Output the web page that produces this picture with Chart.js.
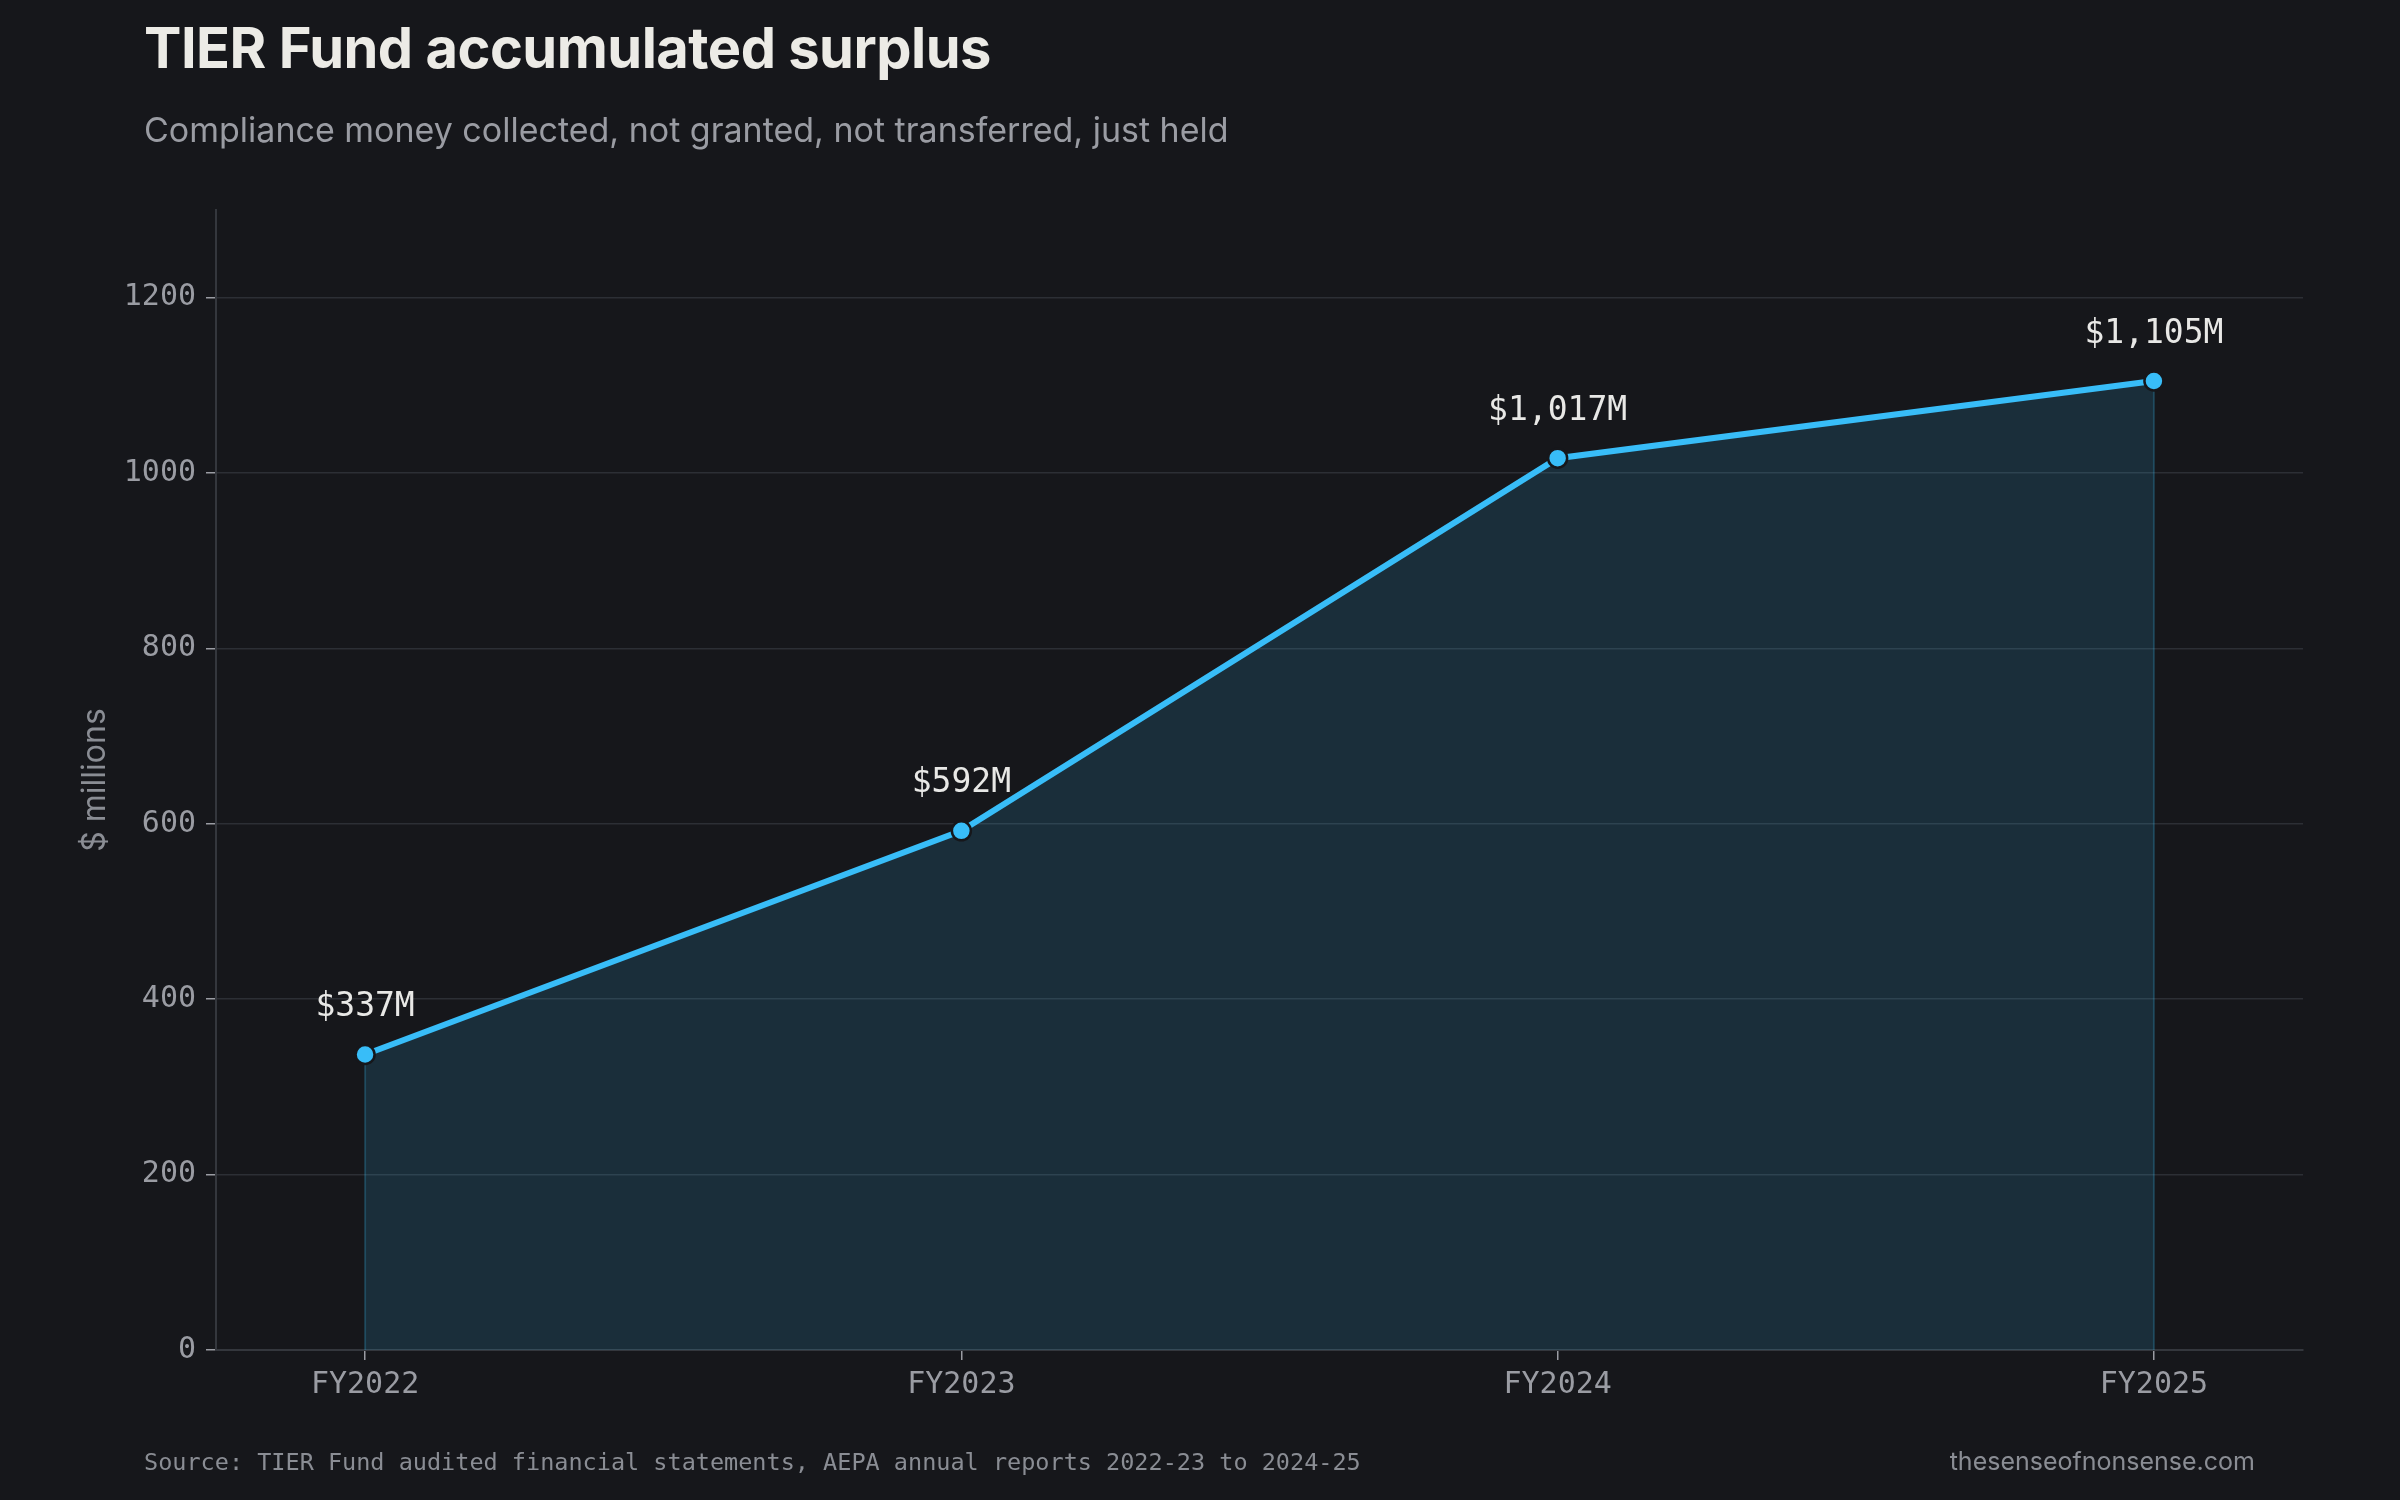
<!DOCTYPE html>
<html>
<head>
<meta charset="utf-8">
<script src="https://cdn.jsdelivr.net/npm/chart.js@4.4.1/dist/chart.umd.min.js"></script>
<style>
  html, body { margin:0; padding:0; background:#16171b; }
  #wrap { position:relative; width:2400px; height:1500px; overflow:hidden; }
  #c { position:absolute; left:0; top:0; }
  .txt { position:absolute; white-space:nowrap; }
  #title { left:144px; top:14px; font:700 56px "Inter", "Open Sans", sans-serif; color:#ecebe6; letter-spacing:-0.5px; }
  #sub { left:144px; top:109px; font:400 34px "Inter", "Open Sans", sans-serif; color:#9a9ca3; }
  #src { left:144px; top:1448px; font:400 23.5px "DejaVu Sans Mono", monospace; color:#8a8d94; }
  #site { right:145px; top:1446px; font:400 25px "Inter", "Open Sans", sans-serif; color:#8a8d94; }
</style>
</head>
<body>
<div id="wrap">
  <canvas id="c" width="2400" height="1500"></canvas>
  <div class="txt" id="title">TIER Fund accumulated surplus</div>
  <div class="txt" id="sub">Compliance money collected, not granted, not transferred, just held</div>
  <div class="txt" id="src">Source: TIER Fund audited financial statements, AEPA annual reports 2022-23 to 2024-25</div>
  <div class="txt" id="site">thesenseofnonsense.com</div>
</div>
<script>
// data
var years = ['FY2022', 'FY2023', 'FY2024', 'FY2025']
var surplus = [337, 592, 1017, 1105]
var valueLabels = ['$337M', '$592M', '$1,017M', '$1,105M']

var lineColor = '#38bdf8'
var bg = '#16171b'
var mono = '"DejaVu Sans Mono", monospace'

var points = []
for (var i = 0; i < years.length; i++) {
  points.push({x: i, y: surplus[i]})
}

// edges of the filled area + value labels
var extras = {
  id: 'extras',
  beforeDatasetsDraw: function(chart) {
    var ctx = chart.ctx
    var meta = chart.getDatasetMeta(0)
    var yb = chart.scales.y.getPixelForValue(0)
    ctx.save()
    ctx.strokeStyle = 'rgba(56,189,248,0.22)'
    ctx.lineWidth = 2
    ;[meta.data[0], meta.data[meta.data.length - 1]].forEach(function(p) {
      ctx.beginPath()
      ctx.moveTo(p.x, p.y)
      ctx.lineTo(p.x, yb)
      ctx.stroke()
    })
    ctx.restore()
  },
  afterDatasetsDraw: function(chart) {
    var ctx = chart.ctx
    var meta = chart.getDatasetMeta(0)
    ctx.save()
    ctx.font = '33px ' + mono
    ctx.fillStyle = '#e8e8e6'
    ctx.textAlign = 'center'
    ctx.textBaseline = 'middle'
    meta.data.forEach(function(p, i) {
      ctx.fillText(valueLabels[i], p.x, p.y - 47)
    })
    ctx.restore()
  }
}

var chart = new Chart(document.getElementById('c'), {
  type: 'line',
  data: {
    datasets: [{
      data: points,
      borderColor: lineColor,
      borderWidth: 6,
      backgroundColor: 'rgba(56,189,248,0.14)',
      fill: 'origin',
      tension: 0,
      pointRadius: 9.5,
      pointHoverRadius: 9.5,
      pointBackgroundColor: lineColor,
      pointBorderColor: bg,
      pointBorderWidth: 2.5
    }]
  },
  options: {
    responsive: false,
    animation: false,
    layout: { padding: { left: 0, top: 210, right: 97, bottom: 0 } },
    plugins: { legend: { display: false }, tooltip: { enabled: false } },
    scales: {
      x: {
        type: 'linear',
        min: -0.25,
        max: 3.25,
        afterBuildTicks: function(axis) {
          axis.ticks = axis.ticks.filter(function(t) { return Number.isInteger(t.value) })
        },
        afterFit: function(axis) { axis.height = 150 },
        ticks: {
          stepSize: 1,
          color: '#9a9ca3',
          font: { family: mono, size: 30 },
          padding: 7,
          maxRotation: 0,
          callback: function(v) { return years[v] }
        },
        grid: { drawOnChartArea: false, drawTicks: true, tickLength: 10, color: '#9a9ca3', lineWidth: 1.5 },
        border: { display: true, color: '#34373d', width: 2 }
      },
      y: {
        min: 0,
        max: 1300,
        afterBuildTicks: function(axis) {
          axis.ticks = axis.ticks.filter(function(t) { return t.value % 200 === 0 })
        },
        afterFit: function(axis) { axis.width = 216 },
        ticks: {
          stepSize: 200,
          color: '#9a9ca3',
          font: { family: mono, size: 30 },
          padding: 10,
          callback: function(v) { return String(v) }
        },
        grid: {
          color: '#2c2f35',
          lineWidth: 1.5,
          tickLength: 10,
          tickColor: '#9a9ca3'
        },
        border: { display: true, color: '#34373d', width: 2 },
        title: {
          display: true,
          text: '$ millions',
          color: '#8a8d94',
          font: { family: '"Inter", "Open Sans", sans-serif', size: 32 },
          padding: { top: 76, bottom: 0 }
        }
      }
    }
  },
  plugins: [extras]
})
</script>
</body>
</html>
